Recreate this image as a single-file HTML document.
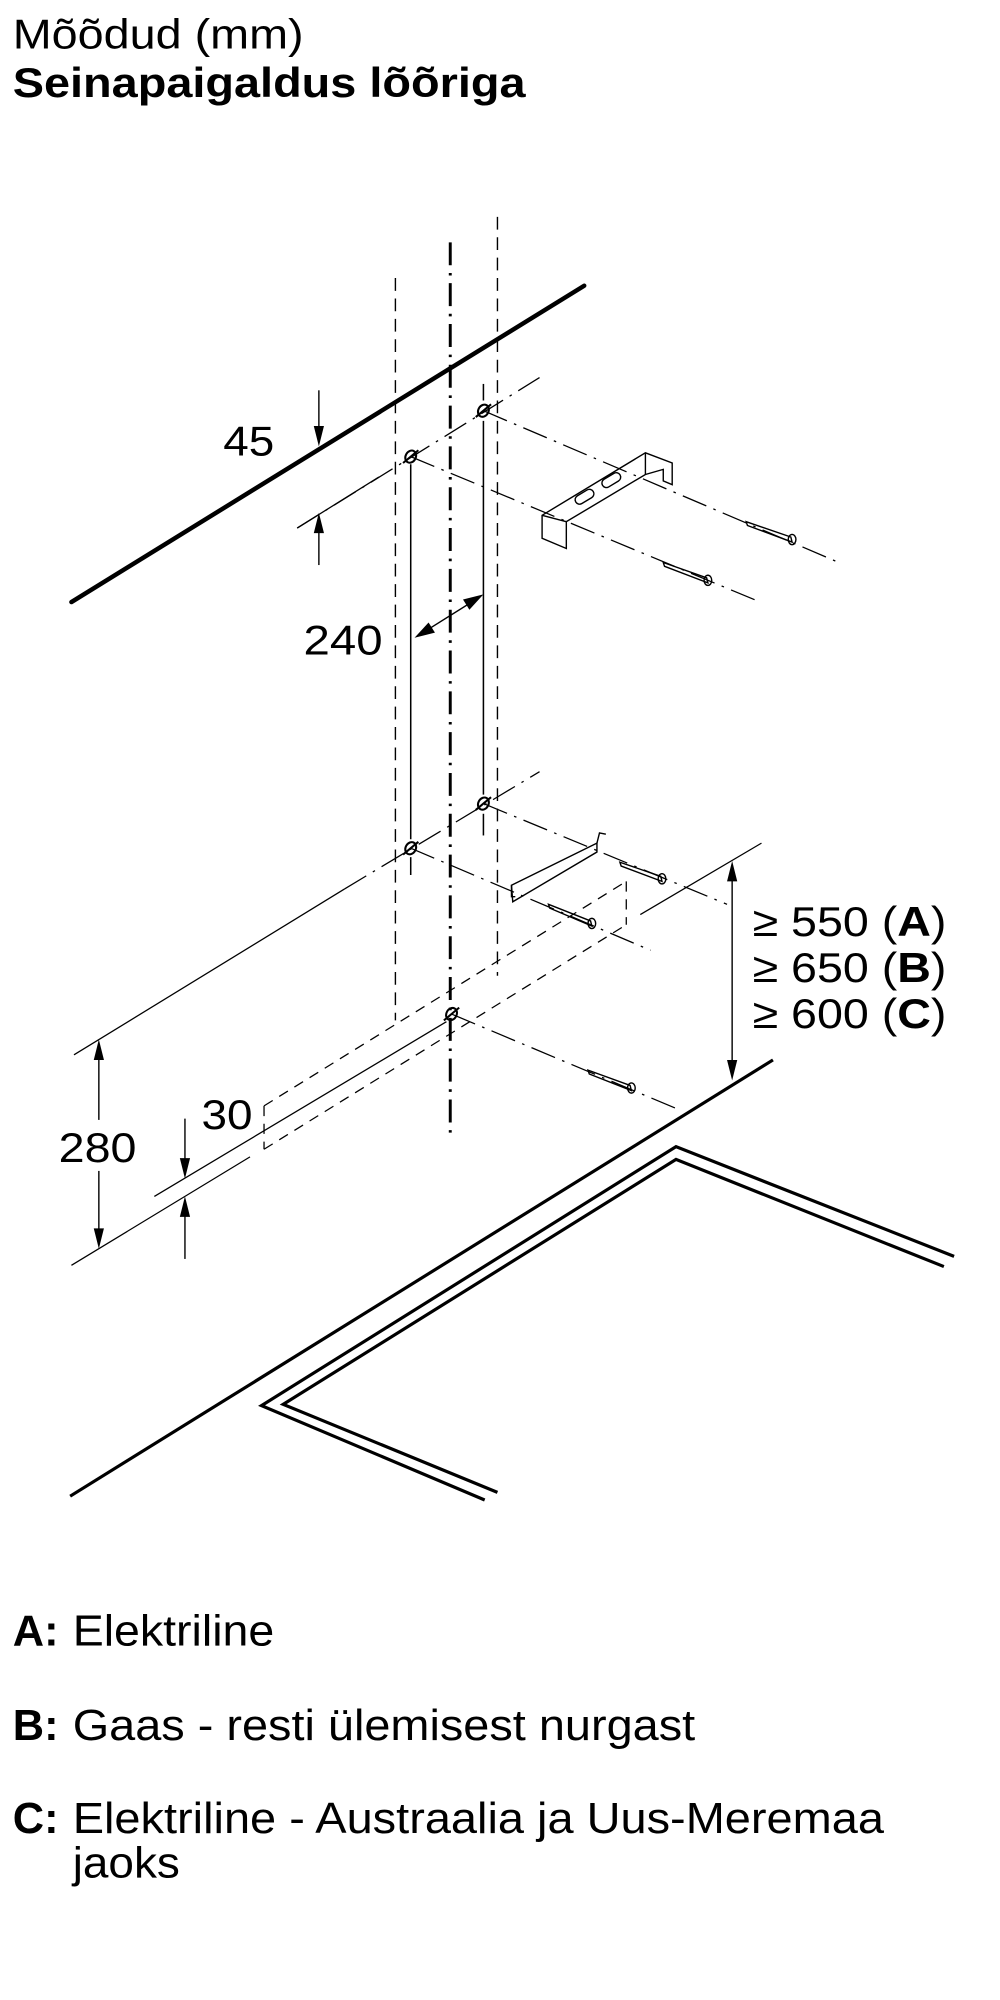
<!DOCTYPE html>
<html><head><meta charset="utf-8"><style>
html,body{margin:0;padding:0;background:#fff;}
svg{display:block;}
text{font-family:"Liberation Sans",Arial,sans-serif;fill:#000;}
</style></head><body>
<svg width="1000" height="2000" viewBox="0 0 784 1568" xmlns="http://www.w3.org/2000/svg">
<text x="10" y="38" font-size="33" textLength="228" lengthAdjust="spacingAndGlyphs">Mõõdud (mm)</text>
<text x="10" y="76" font-size="33" font-weight="bold" textLength="402" lengthAdjust="spacingAndGlyphs">Seinapaigaldus lõõriga</text>

<g stroke="#000" fill="none" stroke-linecap="butt">
<line x1="56" y1="472" x2="458" y2="224" stroke-width="3.5" stroke-linecap="round"/>
<line x1="353" y1="190" x2="353" y2="893" stroke-width="2.3" stroke-dasharray="18 6 2 6"/>
<line x1="310" y1="218" x2="310" y2="800" stroke-width="1.1" stroke-dasharray="10 6"/>
<line x1="390" y1="170" x2="390" y2="765" stroke-width="1.1" stroke-dasharray="10 6"/>
<line x1="322" y1="364" x2="322" y2="658" stroke-width="1.2"/>
<line x1="322" y1="672" x2="322" y2="686" stroke-width="1.2"/>
<line x1="379" y1="301" x2="379" y2="314" stroke-width="1.2"/>
<line x1="379" y1="330" x2="379" y2="623" stroke-width="1.2"/>
<line x1="379" y1="638" x2="379" y2="655" stroke-width="1.2"/>

<g stroke-width="1" stroke-dasharray="20 6 2 6">
<line x1="233" y1="414" x2="423" y2="296"/>
<line x1="379" y1="322" x2="660" y2="442"/>
<line x1="322" y1="358" x2="596" y2="472"/>
<line x1="270" y1="697" x2="423" y2="605"/>
<line x1="379" y1="630" x2="570" y2="709"/>
<line x1="322" y1="665" x2="510" y2="745"/>
<line x1="354" y1="795" x2="530" y2="869"/>
</g>
<g stroke-width="1">
<line x1="58" y1="827" x2="270" y2="697"/>
<line x1="121" y1="938" x2="350" y2="801"/>
<line x1="56" y1="992" x2="196" y2="907"/>
<line x1="502" y1="717" x2="597" y2="661"/>
<line x1="233" y1="414" x2="297" y2="374"/>
</g>
<g stroke-width="1" stroke-dasharray="8 6">
<line x1="207" y1="867" x2="491" y2="691"/>
<line x1="207" y1="901" x2="491" y2="725"/>
<line x1="207" y1="867" x2="207" y2="901"/>
<line x1="491" y1="691" x2="491" y2="725"/>
</g>
<line x1="55" y1="1173" x2="606" y2="831" stroke-width="2.5"/>
<polyline points="380,1176 205,1102 530,899 748,985" stroke-width="2.5"/>
<polyline points="390,1170 222,1101 530,909 740,993" stroke-width="2.5"/>

<g stroke-width="1.6">
<ellipse cx="379" cy="322" rx="4" ry="5" transform="rotate(30 379 322)"/>
<ellipse cx="322" cy="358" rx="4" ry="5" transform="rotate(30 322 358)"/>
<ellipse cx="379" cy="630" rx="4" ry="5" transform="rotate(30 379 630)"/>
<ellipse cx="322" cy="665" rx="4" ry="5" transform="rotate(30 322 665)"/>
<ellipse cx="354" cy="795" rx="4" ry="5" transform="rotate(30 354 795)"/>
<line x1="373" y1="327" x2="385" y2="317"/>
<line x1="316" y1="363" x2="328" y2="353"/>
<line x1="373" y1="635" x2="385" y2="625"/>
<line x1="316" y1="670" x2="328" y2="660"/>
<line x1="348" y1="800" x2="360" y2="790"/>
</g>

<g stroke-width="1.1">
<polygon points="425,404 506,355 527,363 527,380 520,377 520,368 506,372 444,409 444,430 425,422"/>
<line x1="425" y1="404" x2="444" y2="409"/>
<line x1="506" y1="355" x2="506" y2="372"/>
<rect x="450" y="386" width="16" height="7" rx="3.5" transform="rotate(-31 458 389)"/>
<rect x="471" y="373" width="16" height="7" rx="3.5" transform="rotate(-31 479 376)"/>
<polygon points="585,409 620,421 621,425 586,412"/>
<ellipse cx="621" cy="423" rx="3" ry="4"/>
<polygon points="520,441 554,453 555,457 521,444"/>
<ellipse cx="555" cy="455" rx="3" ry="4"/>
<polygon points="401,694 468,661 468,668 402,707"/>
<polyline points="401,694 401,703 404,703"/>
<polyline points="468,661 470,653 475,654"/>
<polygon points="486,676 518,687 519,691 487,679"/>
<ellipse cx="519" cy="689" rx="3" ry="4"/>
<polygon points="430,709 463,722 464,726 431,712"/>
<ellipse cx="464" cy="724" rx="3" ry="4"/>
<polygon points="461,839 494,851 495,855 462,842"/>
<ellipse cx="495" cy="853" rx="3" ry="4"/>
</g>

<g stroke-width="1.1">
<line x1="250" y1="306" x2="250" y2="340"/>
<line x1="250" y1="443" x2="250" y2="412"/>
<line x1="330" y1="497" x2="373" y2="470"/>
<line x1="77.5" y1="828" x2="77.5" y2="878"/>
<line x1="77.5" y1="918" x2="77.5" y2="966"/>
<line x1="574" y1="688" x2="574" y2="834"/>
<line x1="145" y1="877" x2="145" y2="912"/>
<line x1="145" y1="987" x2="145" y2="950"/>
</g>
</g>
<g fill="#000">
<polygon points="250,350 246,334 254,334"/>
<polygon points="250,402 246,418 254,418"/>
<polygon points="325,500 336,488 341,496"/>
<polygon points="379,466 368,478 363,470"/>
<polygon points="77.5,815 73.5,831 81.5,831"/>
<polygon points="77.5,979 73.5,963 81.5,963"/>
<polygon points="574,675 570,691 578,691"/>
<polygon points="574,847 570,831 578,831"/>
<polygon points="145,924 141,908 149,908"/>
<polygon points="145,938 141,954 149,954"/>
</g>

<text x="175" y="357" font-size="33" textLength="40" lengthAdjust="spacingAndGlyphs">45</text>
<text x="238" y="513" font-size="33" textLength="62" lengthAdjust="spacingAndGlyphs">240</text>
<text x="46" y="911" font-size="33" textLength="61" lengthAdjust="spacingAndGlyphs">280</text>
<text x="158" y="885" font-size="33" textLength="40" lengthAdjust="spacingAndGlyphs">30</text>
<text x="590" y="734" font-size="33" textLength="152" lengthAdjust="spacingAndGlyphs">≥ 550 (<tspan font-weight="bold">A</tspan>)</text>
<text x="590" y="770" font-size="33" textLength="152" lengthAdjust="spacingAndGlyphs">≥ 650 (<tspan font-weight="bold">B</tspan>)</text>
<text x="590" y="806" font-size="33" textLength="152" lengthAdjust="spacingAndGlyphs">≥ 600 (<tspan font-weight="bold">C</tspan>)</text>

<text x="10" y="1290" font-size="34" font-weight="bold">A:</text>
<text x="57" y="1290" font-size="34" textLength="158" lengthAdjust="spacingAndGlyphs">Elektriline</text>
<text x="10" y="1364" font-size="34" font-weight="bold">B:</text>
<text x="57" y="1364" font-size="34" textLength="488" lengthAdjust="spacingAndGlyphs">Gaas - resti ülemisest nurgast</text>
<text x="10" y="1437" font-size="34" font-weight="bold">C:</text>
<text x="57" y="1437" font-size="34" textLength="636" lengthAdjust="spacingAndGlyphs">Elektriline - Austraalia ja Uus-Meremaa</text>
<text x="57" y="1472" font-size="34" textLength="84" lengthAdjust="spacingAndGlyphs">jaoks</text>
</svg>
</body></html>
